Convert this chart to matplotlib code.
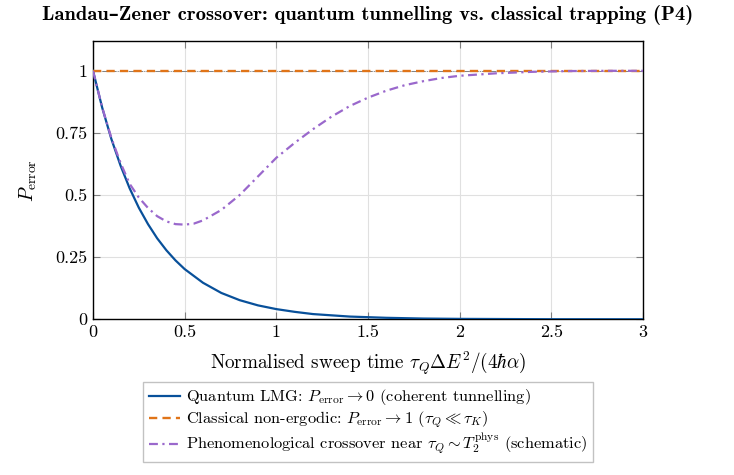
import numpy as np
import matplotlib
matplotlib.use("Agg")
import matplotlib.pyplot as plt

plt.rcParams["font.family"] = ["cmr10", "DejaVu Serif"]
plt.rcParams["mathtext.fontset"] = "cm"
plt.rcParams["axes.formatter.use_mathtext"] = True

# values
x_quantum = [0.0, 0.05, 0.1, 0.15, 0.2, 0.25, 0.3, 0.35, 0.4, 0.45, 0.5, 0.6, 0.7, 0.8, 0.9,
             1.0, 1.1, 1.2, 1.3, 1.4, 1.6, 1.8, 2.0, 2.5, 3.0]
p_quantum = [1.0, 0.852, 0.726, 0.619, 0.527, 0.449, 0.383, 0.326, 0.278, 0.237, 0.202,
             0.147, 0.106, 0.077, 0.056, 0.041, 0.030, 0.021, 0.016, 0.011, 0.006, 0.003,
             0.0017, 0.0003, 0.0001]

x_classical = [0.0, 3.0]
p_classical = [1.0, 1.0]

x_cross = [0.0, 0.05, 0.1, 0.15, 0.2, 0.25, 0.3, 0.35, 0.4, 0.45, 0.5, 0.55, 0.6, 0.7, 0.8, 0.9,
           1.0, 1.1, 1.2, 1.3, 1.4, 1.5, 1.6, 1.7, 1.8, 1.9, 2.0, 2.2, 2.4, 2.6, 2.8, 3.0]
p_cross = [1.0, 0.853, 0.73, 0.63, 0.545, 0.49, 0.448, 0.415, 0.394, 0.383, 0.381, 0.385,
           0.398, 0.44, 0.50, 0.575, 0.65, 0.71, 0.765, 0.815, 0.858, 0.892, 0.92, 0.942,
           0.958, 0.971, 0.98, 0.99, 0.996, 0.999, 1.0, 1.0]

fig = plt.figure(figsize=(7.34, 4.75), dpi=100)
ax = fig.add_axes([0.1267, 0.3278, 0.7493, 0.5859])

ax.axhline(1.0, color="0.45", lw=0.6, ls="-.", zorder=1)
ax.plot(x_quantum, p_quantum, color="#08509a", lw=1.6, zorder=3,
        label=r"Quantum LMG: $P_{\rm error}\to 0$ (coherent tunnelling)")
ax.plot(x_classical, p_classical, color="#e07418", lw=1.7, ls=(0, (3.5, 2.2)), zorder=3,
        label=r"Classical non-ergodic: $P_{\rm error}\to 1$ ($\tau_Q \ll \tau_K$)")
ax.plot(x_cross, p_cross, color="#9a68cc", lw=1.6, ls=(0, (4, 2, 1, 2)), zorder=4,
        label=r"Phenomenological crossover near $\tau_Q \sim T_2^{\rm phys}$ (schematic)")

ax.set_xlim(0, 3)
ax.set_ylim(0, 1.12)
ax.set_xticks([0, 0.5, 1, 1.5, 2, 2.5, 3])
ax.set_xticklabels(["0", "0.5", "1", "1.5", "2", "2.5", "3"])
ax.set_yticks([0, 0.25, 0.5, 0.75, 1])
ax.set_yticklabels(["0", "0.25", "0.5", "0.75", "1"])
ax.tick_params(direction="in", top=True, right=True, labelsize=13, length=5,
               color="0.5", pad=4)
ax.grid(True, color="0.88", lw=0.8)
ax.set_axisbelow(True)
for s in ax.spines.values():
    s.set_linewidth(1.0)

ax.set_xlabel(r"Normalised sweep time $\tau_Q\Delta E^2/(4\hbar\alpha)$", fontsize=13.8, labelpad=7)
ax.set_ylabel(r"$P_{\rm error}$", fontsize=14, labelpad=12)
ax.set_title("Landau–Zener crossover: quantum tunnelling vs. classical trapping (P4)",
             fontsize=14.8, fontweight="bold", family=["cmb10", "DejaVu Serif"], pad=15)

leg = ax.legend(loc="upper center", bbox_to_anchor=(0.5, -0.195), fontsize=11.8,
                frameon=True, fancybox=False, edgecolor="0.7", handlelength=1.9,
                handletextpad=0.4, labelspacing=0.12, borderpad=0.35)
leg.get_frame().set_linewidth(1.0)

fig.savefig("out.png", dpi=100)
